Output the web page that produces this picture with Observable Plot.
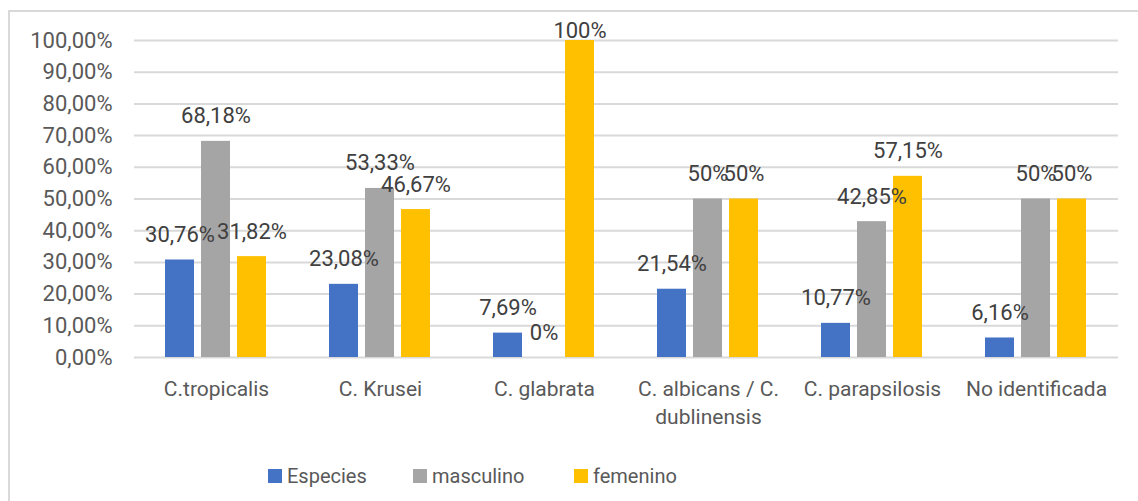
<!DOCTYPE html>
<html><head><meta charset="utf-8">
<script src="https://cdn.jsdelivr.net/npm/d3@7"></script>
<script src="https://cdn.jsdelivr.net/npm/@observablehq/plot@0.6"></script>
<style>
body{margin:0;background:#fff;font-family:Roboto,sans-serif;width:1138px;height:501px;overflow:hidden;position:relative;}
#frame{position:absolute;left:8px;top:10px;width:1160px;height:520px;border:2px solid #d9d9d9;box-sizing:border-box;}
#chart{position:absolute;left:0;top:0;}
#legend{position:absolute;top:464px;left:0;width:1138px;height:24px;font-size:20px;color:#595959;white-space:nowrap;}
#legend .item{position:absolute;top:0;display:flex;align-items:center;height:24px;}
#legend .sw{width:14px;height:14px;margin-right:5px;}
</style></head>
<body>
<div id="frame"></div>
<div id="chart"></div>
<div id="legend"></div>
<script>
const categories = ["C.tropicalis","C. Krusei","C. glabrata","C. albicans / C. dublinensis","C. parapsilosis","No identificada"];
const series = ["Especies","masculino","femenino"];
const colors = ["#4472C4","#A5A5A5","#FFC000"];
const especies = [30.76,23.08,7.69,21.54,10.77,6.16];
const masculino = [68.18,53.33,0,50,42.85,50];
const femenino = [31.82,46.67,100,50,57.15,50];
const especiesLabels = ["30,76%","23,08%","7,69%","21,54%","10,77%","6,16%"];
const masculinoLabels = ["68,18%","53,33%","0%","50%","42,85%","50%"];
const femeninoLabels = ["31,82%","46,67%","100%","50%","57,15%","50%"];
const yTicks = [0,10,20,30,40,50,60,70,80,90,100];

const values = [especies, masculino, femenino];
const labels = [especiesLabels, masculinoLabels, femeninoLabels];
const data = [];
categories.forEach((c,i)=>series.forEach((s,j)=>data.push({cat:c, series:s, value:values[j][i], label:labels[j][i]})));

const fmt = d => d.toFixed(2).replace(".",",") + "%";
const atTop = d => d.value >= 95;

const chart = Plot.plot({
  width:1138, height:440,
  marginTop:40, marginBottom:83, marginLeft:132, marginRight:18,
  style:{fontFamily:"Roboto, sans-serif", fontSize:"22px", color:"#595959", background:"transparent"},
  fx:{domain:categories, padding:0, label:null},
  x:{domain:series, paddingInner:0.19, paddingOuter:0.82, axis:null},
  y:{domain:[0,100], label:null},
  color:{domain:series, range:colors},
  marks:[
    Plot.gridY(yTicks, {stroke:"#d9d9d9", strokeOpacity:1, strokeWidth:2}),
    Plot.axisY(yTicks, {tickSize:0, tickPadding:22, tickFormat:fmt, fontSize:22, fill:"#595959", label:null}),
    Plot.axisFx({anchor:"bottom", tickSize:0, tickPadding:18, fontSize:21, fill:"#595959", lineHeight:1.35, label:null,
      tickFormat: c => c.replace(" / C. ", " / C.\n")}),
    Plot.barY(data, {fx:"cat", x:"series", y:"value", fill:"series"}),
    Plot.text(data.filter(d => !atTop(d)), {fx:"cat", x:"series", y:"value", text:"label", dy:-25, fontSize:22, fill:"#404040"}),
    Plot.text(data.filter(atTop), {fx:"cat", x:"series", y:"value", text:"label", dy:-10, fontSize:22, fill:"#404040"})
  ]
});
document.getElementById("chart").appendChild(chart);

const legend = document.getElementById("legend");
const legendLeft = [268, 413, 574];
series.forEach((s,i)=>{
  const it = document.createElement("div"); it.className="item"; it.style.left = legendLeft[i] + "px";
  const sw = document.createElement("div"); sw.className="sw"; sw.style.background=colors[i];
  const t = document.createElement("span"); t.textContent=s;
  it.appendChild(sw); it.appendChild(t); legend.appendChild(it);
});
</script>
</body></html>
